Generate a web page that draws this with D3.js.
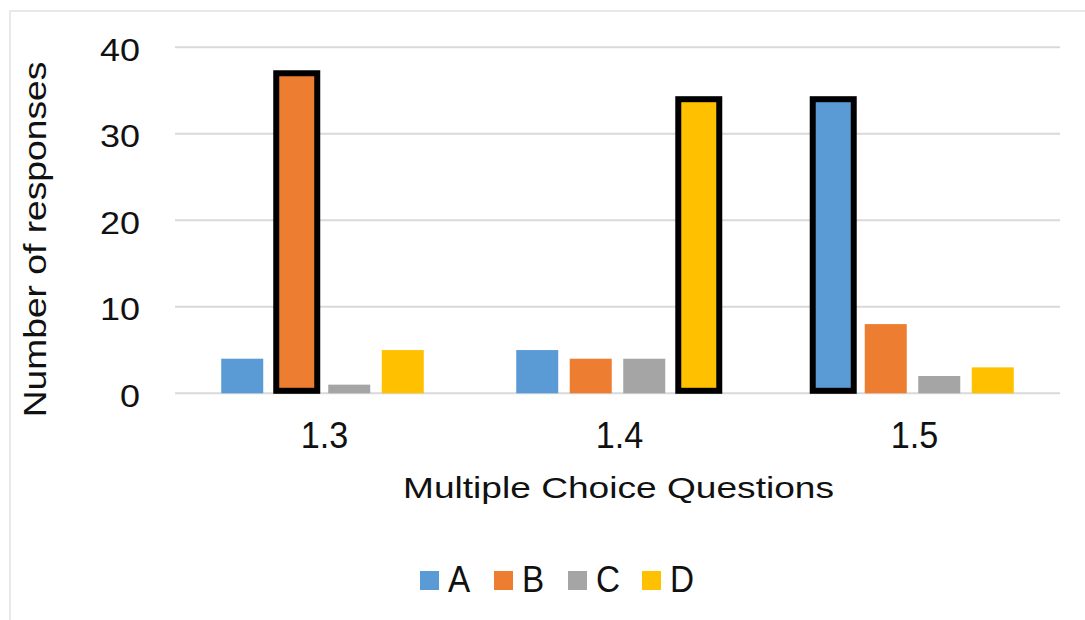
<!DOCTYPE html>
<html>
<head>
<meta charset="utf-8">
<script src="https://cdn.jsdelivr.net/npm/d3@7"></script>
<style>
  html, body { margin: 0; padding: 0; background: #fff; }
  svg { display: block; font-family: "Liberation Sans", Arial, sans-serif; }
</style>
</head>
<body>
<svg id="chart" width="1085" height="620"></svg>
<script>
// ---- data ----
const categories = ["1.3", "1.4", "1.5"];
const seriesNames = ["A", "B", "C", "D"];
const valuesA = [4, 5, 34];
const valuesB = [37, 4, 8];
const valuesC = [1, 4, 2];
const valuesD = [5, 34, 3];
const correctAnswers = ["B", "D", "A"];
const yTicks = [0, 10, 20, 30, 40];
const seriesColors = ["#5b9bd5", "#ed7d31", "#a5a5a5", "#ffc000"];

const seriesValues = [valuesA, valuesB, valuesC, valuesD];

const svg = d3.select("#chart");

// chart frame
svg.append("rect")
  .attr("x", 10).attr("y", 11).attr("width", 1200).attr("height", 800)
  .attr("fill", "none").attr("stroke", "#e2e2e2").attr("stroke-width", 1.5);

const x0 = d3.scaleBand().domain(categories).range([175, 1060]).padding(0);
const x1 = d3.scaleBand().domain(seriesNames).range([0, x0.bandwidth()])
  .paddingInner(0.215).paddingOuter(0.864);
const y = d3.scaleLinear().domain([0, 40]).range([393.3, 47.3]);
const color = d3.scaleOrdinal().domain(seriesNames).range(seriesColors);

// gridlines
svg.append("g").selectAll("line").data(yTicks).join("line")
  .attr("x1", 175).attr("x2", 1060)
  .attr("y1", d => y(d)).attr("y2", d => y(d))
  .attr("stroke", "#d9d9d9").attr("stroke-width", 2);

// y tick labels
svg.append("g").selectAll("text").data(yTicks).join("text")
  .attr("transform", d => `translate(140,${y(d) + 13.5}) scale(1.16,1)`)
  .attr("text-anchor", "end")
  .attr("font-size", 31)
  .attr("fill", "#111")
  .text(d => d);

// bars
const rows = [];
categories.forEach((c, i) => {
  seriesNames.forEach((s, j) => {
    rows.push({ cat: c, series: s, value: seriesValues[j][i], correct: correctAnswers[i] === s });
  });
});

const bars = svg.append("g");
bars.selectAll("rect.plain").data(rows.filter(d => !d.correct)).join("rect")
  .attr("class", "plain")
  .attr("x", d => x0(d.cat) + x1(d.series))
  .attr("width", x1.bandwidth())
  .attr("y", d => y(d.value))
  .attr("height", d => y(0) - y(d.value))
  .attr("fill", d => color(d.series));

bars.selectAll("rect.hl").data(rows.filter(d => d.correct)).join("rect")
  .attr("class", "hl")
  .attr("x", d => x0(d.cat) + x1(d.series) + 1.5)
  .attr("width", x1.bandwidth() - 1)
  .attr("y", d => y(d.value))
  .attr("height", d => y(0) - y(d.value) - 2.5)
  .attr("fill", d => color(d.series))
  .attr("stroke", "#000").attr("stroke-width", 6);

// x tick labels
svg.append("g").selectAll("text").data(categories).join("text")
  .attr("transform", d => `translate(${x0(d) + x0.bandwidth() / 2 + 2},448.3) scale(0.95,1)`)
  .attr("text-anchor", "middle")
  .attr("font-size", 36)
  .attr("fill", "#111")
  .text(d => d);

// x axis title
svg.append("text")
  .attr("transform", "translate(618.5,498.3) scale(1.237,1)")
  .attr("text-anchor", "middle")
  .attr("font-size", 30)
  .attr("fill", "#111")
  .text("Multiple Choice Questions");

// y axis title
svg.append("text")
  .attr("transform", "translate(45.5,239.5) rotate(-90) scale(1.2,1)")
  .attr("text-anchor", "middle")
  .attr("font-size", 31)
  .attr("fill", "#111")
  .text("Number of responses");

// legend
const leg = svg.append("g").selectAll("g").data(seriesNames).join("g")
  .attr("transform", (d, i) => `translate(${420 + i * 74},0)`);
leg.append("rect")
  .attr("x", 0).attr("y", 571).attr("width", 19).attr("height", 19)
  .attr("fill", d => color(d));
leg.append("text")
  .attr("transform", "translate(28,592.3) scale(0.9,1)")
  .attr("font-size", 37)
  .attr("fill", "#111")
  .text(d => d);
</script>
</body>
</html>
